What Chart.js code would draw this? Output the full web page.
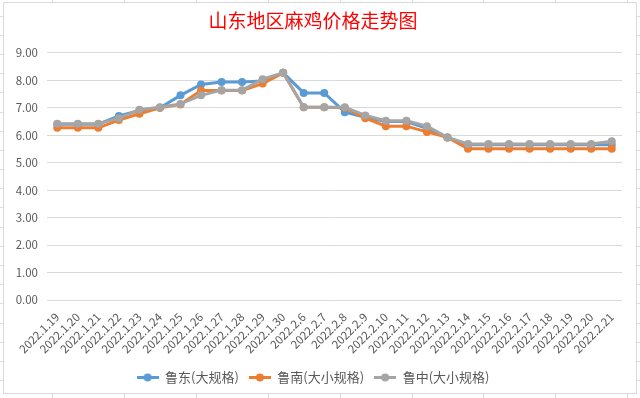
<!DOCTYPE html>
<html>
<head>
<meta charset="utf-8">
<script src="https://cdn.jsdelivr.net/npm/chart.js@4/dist/chart.umd.min.js"></script>
<style>
    html, body { margin: 0; padding: 0; background: #fff; }
    #wrap { position: relative; width: 640px; height: 398px; }
</style>
</head>
<body>
<div id="wrap"><canvas id="priceChart" width="640" height="398"></canvas></div>
<script>
const dates = [
    "2022.1.19", "2022.1.20", "2022.1.21", "2022.1.22", "2022.1.23", "2022.1.24",
    "2022.1.25", "2022.1.26", "2022.1.27", "2022.1.28", "2022.1.29", "2022.1.30",
    "2022.2.6", "2022.2.7", "2022.2.8", "2022.2.9", "2022.2.10", "2022.2.11",
    "2022.2.12", "2022.2.13", "2022.2.14", "2022.2.15", "2022.2.16", "2022.2.17",
    "2022.2.18", "2022.2.19", "2022.2.20", "2022.2.21",
];
const seriesNames = ["鲁东(大规格)", "鲁南(大小规格)", "鲁中(大小规格)"];
const luDong = [
    6.4, 6.4, 6.4, 6.7, 6.9, 7.0, 7.45, 7.85, 7.94, 7.94, 7.97, 8.27,
    7.54, 7.54, 6.84, 6.65, 6.5, 6.5, 6.25, 5.92,
    5.65, 5.65, 5.65, 5.65, 5.65, 5.65, 5.65, 5.65,
];
const luNan = [
    6.27, 6.27, 6.27, 6.55, 6.78, 7.0, 7.12, 7.63, 7.63, 7.63, 7.88, 8.27,
    7.02, 7.02, 7.0, 6.62, 6.33, 6.33, 6.12, 5.92,
    5.51, 5.51, 5.51, 5.51, 5.51, 5.51, 5.51, 5.51,
];
const luZhong = [
    6.42, 6.42, 6.42, 6.62, 6.93, 7.02, 7.14, 7.45, 7.64, 7.64, 8.04, 8.27,
    7.02, 7.02, 7.02, 6.72, 6.53, 6.53, 6.33, 5.92,
    5.68, 5.68, 5.68, 5.68, 5.68, 5.68, 5.68, 5.78,
];
const colors = ["#5B9BD5", "#ED7D31", "#A5A5A5"];

const FONT = "'Noto Sans CJK SC', 'Noto Sans', sans-serif";

// legend marker: short line with a dot in the middle, like Excel
function legendMarker(color) {
    const c = document.createElement("canvas");
    c.width = 22;
    c.height = 9;
    const g = c.getContext("2d");
    g.strokeStyle = color;
    g.lineWidth = 3;
    g.beginPath();
    g.moveTo(0, 4.5);
    g.lineTo(22, 4.5);
    g.stroke();
    g.fillStyle = color;
    g.beginPath();
    g.arc(11, 4.5, 4, 0, Math.PI * 2);
    g.fill();
    return c;
}
const markers = colors.map(legendMarker);

// frame of the chart object plus the spreadsheet cells peeking out round it
const sheetFrame = {
    id: "sheetFrame",
    beforeDraw(chart) {
        const ctx = chart.ctx;
        ctx.save();
        ctx.fillStyle = "#fff";
        ctx.fillRect(0, 0, 640, 398);
        ctx.strokeStyle = "#dadce6";
        ctx.lineWidth = 1;
        for (let y = 15.5; y < 398; y += 19.2) {
            ctx.beginPath();
            ctx.moveTo(0, Math.round(y) + 0.5);
            ctx.lineTo(3, Math.round(y) + 0.5);
            ctx.moveTo(637, Math.round(y) + 0.5);
            ctx.lineTo(640, Math.round(y) + 0.5);
            ctx.stroke();
        }
        for (let x = 52; x < 640; x += 71.9) {
            ctx.beginPath();
            ctx.moveTo(Math.round(x) + 0.5, 0);
            ctx.lineTo(Math.round(x) + 0.5, 2);
            ctx.moveTo(Math.round(x) + 0.5, 394);
            ctx.lineTo(Math.round(x) + 0.5, 398);
            ctx.stroke();
        }
        ctx.strokeStyle = "#d9d9d9";
        ctx.strokeRect(3.5, 2.5, 633, 391);
        ctx.restore();
    },
};

const ctx = document.getElementById("priceChart").getContext("2d");

new Chart(ctx, {
    type: "line",
    data: {
        labels: dates,
        datasets: [luDong, luNan, luZhong].map((values, i) => ({
            label: seriesNames[i],
            data: values,
            borderColor: colors[i],
            backgroundColor: colors[i],
            pointBackgroundColor: colors[i],
            pointBorderColor: colors[i],
            borderWidth: 3,
            pointRadius: 4,
            pointBorderWidth: 0,
            tension: 0,
            order: 2 - i, // later series drawn on top, as in Excel
        })),
    },
    options: {
        responsive: false,
        animation: false,
        layout: {
            padding: { left: 4, right: 18, top: 0, bottom: 4 },
        },
        plugins: {
            title: {
                display: true,
                text: "山东地区麻鸡价格走势图",
                color: "#FF0000",
                font: { family: FONT, size: 19, weight: "normal" },
                padding: { top: 9, bottom: 21 },
            },
            legend: {
                position: "bottom",
                labels: {
                    color: "#595959",
                    font: { family: FONT, size: 13 },
                    usePointStyle: true,
                    pointStyleWidth: 22,
                    padding: 10,
                    sort: (a, b) => a.datasetIndex - b.datasetIndex,
                    generateLabels: function (chart) {
                        const items = Chart.defaults.plugins.legend.labels.generateLabels(chart);
                        items.forEach((item) => {
                            item.pointStyle = markers[item.datasetIndex];
                            item.lineWidth = 0;
                        });
                        return items;
                    },
                },
            },
            tooltip: { enabled: false },
        },
        scales: {
            x: {
                offset: true,
                grid: { display: false },
                border: { display: false },
                ticks: {
                    color: "#595959",
                    font: { family: FONT, size: 11.5 },
                    minRotation: 45,
                    maxRotation: 45,
                    autoSkip: false,
                    padding: 2,
                },
                afterFit: function (scale) {
                    scale.height = 61;
                },
            },
            y: {
                min: 0,
                max: 9,
                grid: { color: "#d9d9d9", drawTicks: false },
                border: { display: false },
                ticks: {
                    stepSize: 1,
                    color: "#595959",
                    font: { family: FONT, size: 11.5 },
                    padding: 9,
                    callback: (v) => v.toFixed(2),
                },
                afterFit: function (scale) {
                    scale.width = 43;
                },
            },
        },
    },
    plugins: [sheetFrame],
});
</script>
</body>
</html>
